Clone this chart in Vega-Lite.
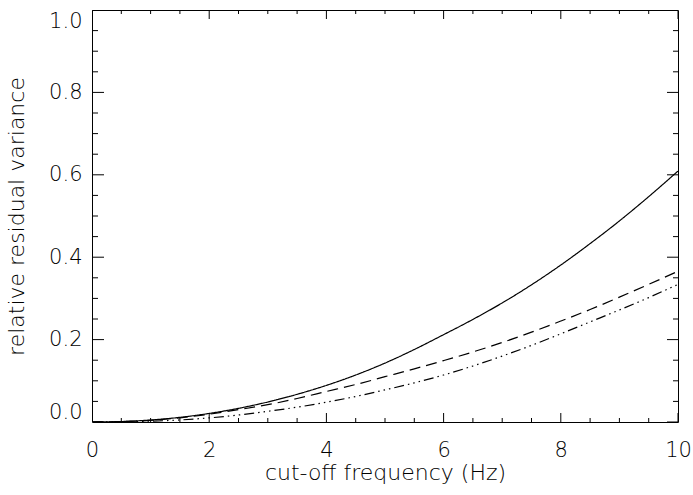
{
  "$schema": "https://vega.github.io/schema/vega-lite/v6.json",
  "width": 586,
  "height": 412,
  "autosize": {"type": "none"},
  "padding": {"left": 92, "top": 10, "right": 15, "bottom": 73},
  "background": "white",
  "config": {
    "view": {"stroke": "black", "strokeWidth": 1},
    "axis": {"grid": false, "ticks": false, "domain": false, "labelFont": "DejaVu Sans", "titleFont": "DejaVu Sans", "labelFontSize": 21, "titleFontSize": 22, "labelFontWeight": 200, "titleFontWeight": 200, "labelColor": "black", "titleColor": "black"}
  },
  "datasets": {
    "curves": [
      {"f": 0, "v": 0, "s": "a"}, {"f": 0.5, "v": 0.0011, "s": "a"}, {"f": 1, "v": 0.0048, "s": "a"}, {"f": 1.5, "v": 0.0113, "s": "a"}, {"f": 2, "v": 0.0208, "s": "a"}, {"f": 2.5, "v": 0.0331, "s": "a"}, {"f": 3, "v": 0.0486, "s": "a"}, {"f": 3.5, "v": 0.0672, "s": "a"}, {"f": 4, "v": 0.0889, "s": "a"}, {"f": 4.5, "v": 0.114, "s": "a"}, {"f": 5, "v": 0.143, "s": "a"}, {"f": 5.5, "v": 0.176, "s": "a"}, {"f": 6, "v": 0.212, "s": "a"}, {"f": 6.5, "v": 0.249, "s": "a"}, {"f": 7, "v": 0.289, "s": "a"}, {"f": 7.5, "v": 0.333, "s": "a"}, {"f": 8, "v": 0.381, "s": "a"}, {"f": 8.5, "v": 0.433, "s": "a"}, {"f": 9, "v": 0.488, "s": "a"}, {"f": 9.5, "v": 0.547, "s": "a"}, {"f": 10, "v": 0.609, "s": "a"},
      {"f": 0, "v": 0, "s": "b"}, {"f": 0.5, "v": 0.001, "s": "b"}, {"f": 1, "v": 0.004, "s": "b"}, {"f": 1.5, "v": 0.01, "s": "b"}, {"f": 2, "v": 0.019, "s": "b"}, {"f": 2.5, "v": 0.03, "s": "b"}, {"f": 3, "v": 0.042, "s": "b"}, {"f": 3.5, "v": 0.057, "s": "b"}, {"f": 4, "v": 0.074, "s": "b"}, {"f": 4.5, "v": 0.091, "s": "b"}, {"f": 5, "v": 0.11, "s": "b"}, {"f": 5.5, "v": 0.129, "s": "b"}, {"f": 6, "v": 0.149, "s": "b"}, {"f": 6.5, "v": 0.17, "s": "b"}, {"f": 7, "v": 0.193, "s": "b"}, {"f": 7.5, "v": 0.218, "s": "b"}, {"f": 8, "v": 0.245, "s": "b"}, {"f": 8.5, "v": 0.273, "s": "b"}, {"f": 9, "v": 0.303, "s": "b"}, {"f": 9.5, "v": 0.334, "s": "b"}, {"f": 10, "v": 0.366, "s": "b"},
      {"f": 0, "v": 0, "s": "c"}, {"f": 0.5, "v": 0.0005, "s": "c"}, {"f": 1, "v": 0.002, "s": "c"}, {"f": 1.5, "v": 0.005, "s": "c"}, {"f": 2, "v": 0.01, "s": "c"}, {"f": 2.5, "v": 0.017, "s": "c"}, {"f": 3, "v": 0.026, "s": "c"}, {"f": 3.5, "v": 0.036, "s": "c"}, {"f": 4, "v": 0.048, "s": "c"}, {"f": 4.5, "v": 0.062, "s": "c"}, {"f": 5, "v": 0.078, "s": "c"}, {"f": 5.5, "v": 0.095, "s": "c"}, {"f": 6, "v": 0.114, "s": "c"}, {"f": 6.5, "v": 0.136, "s": "c"}, {"f": 7, "v": 0.16, "s": "c"}, {"f": 7.5, "v": 0.186, "s": "c"}, {"f": 8, "v": 0.214, "s": "c"}, {"f": 8.5, "v": 0.243, "s": "c"}, {"f": 9, "v": 0.272, "s": "c"}, {"f": 9.5, "v": 0.302, "s": "c"}, {"f": 10, "v": 0.334, "s": "c"}
    ],
    "xticks": [
      {"t": 0, "major": true}, {"t": 0.5, "major": false}, {"t": 1, "major": false}, {"t": 1.5, "major": false}, {"t": 2, "major": true}, {"t": 2.5, "major": false}, {"t": 3, "major": false}, {"t": 3.5, "major": false}, {"t": 4, "major": true}, {"t": 4.5, "major": false}, {"t": 5, "major": false}, {"t": 5.5, "major": false}, {"t": 6, "major": true}, {"t": 6.5, "major": false}, {"t": 7, "major": false}, {"t": 7.5, "major": false}, {"t": 8, "major": true}, {"t": 8.5, "major": false}, {"t": 9, "major": false}, {"t": 9.5, "major": false}, {"t": 10, "major": true}
    ],
    "yticks": [
      {"t": 0, "major": true}, {"t": 0.05, "major": false}, {"t": 0.1, "major": false}, {"t": 0.15, "major": false}, {"t": 0.2, "major": true}, {"t": 0.25, "major": false}, {"t": 0.3, "major": false}, {"t": 0.35, "major": false}, {"t": 0.4, "major": true}, {"t": 0.45, "major": false}, {"t": 0.5, "major": false}, {"t": 0.55, "major": false}, {"t": 0.6, "major": true}, {"t": 0.65, "major": false}, {"t": 0.7, "major": false}, {"t": 0.75, "major": false}, {"t": 0.8, "major": true}, {"t": 0.85, "major": false}, {"t": 0.9, "major": false}, {"t": 0.95, "major": false}, {"t": 1.0, "major": true}
    ]
  },
  "resolve": {"axis": {"x": "independent", "y": "independent"}},
  "layer": [
    {
      "data": {"name": "curves"},
      "mark": {"type": "line", "color": "black", "strokeWidth": 1.2, "interpolate": "monotone", "clip": true},
      "encoding": {
        "x": {"field": "f", "type": "quantitative", "scale": {"domain": [0, 10], "nice": false},
              "axis": {"orient": "bottom", "values": [0, 2, 4, 6, 8, 10], "format": "d", "labelFlush": false, "labelPadding": 17, "title": "cut-off frequency (Hz)", "titleY": 57, "titleBaseline": "alphabetic"}},
        "y": {"field": "v", "type": "quantitative", "scale": {"domain": [0, 1], "nice": false},
              "axis": {"orient": "left", "values": [0, 0.2, 0.4, 0.6, 0.8, 1.0], "format": ".1f", "labelFlush": true, "labelPadding": 10, "title": "relative residual variance", "titleX": -69, "titleBaseline": "alphabetic"}},
        "detail": {"field": "s"},
        "strokeDash": {"field": "s", "type": "nominal", "legend": null, "scale": {"domain": ["a", "b", "c"], "range": [[1, 0], [11, 6], [10, 4, 1.5, 4, 1.5, 4, 1.5, 4]]}}
      }
    },
    {
      "data": {"name": "xticks"},
      "mark": {"type": "tick", "orient": "vertical", "color": "black", "thickness": 1, "opacity": 1, "clip": true},
      "encoding": {
        "x": {"field": "t", "type": "quantitative", "axis": null},
        "y": {"datum": 0, "type": "quantitative", "axis": null},
        "size": {"condition": {"test": "datum.major", "value": 18}, "value": 8}
      }
    },
    {
      "data": {"name": "xticks"},
      "mark": {"type": "tick", "orient": "vertical", "color": "black", "thickness": 1, "opacity": 1, "clip": true},
      "encoding": {
        "x": {"field": "t", "type": "quantitative", "axis": null},
        "y": {"datum": 1, "type": "quantitative", "axis": null},
        "size": {"condition": {"test": "datum.major", "value": 18}, "value": 8}
      }
    },
    {
      "data": {"name": "yticks"},
      "mark": {"type": "tick", "orient": "horizontal", "color": "black", "thickness": 1, "opacity": 1, "clip": true},
      "encoding": {
        "y": {"field": "t", "type": "quantitative", "axis": null},
        "x": {"datum": 0, "type": "quantitative", "axis": null},
        "size": {"condition": {"test": "datum.major", "value": 24}, "value": 12}
      }
    },
    {
      "data": {"name": "yticks"},
      "mark": {"type": "tick", "orient": "horizontal", "color": "black", "thickness": 1, "opacity": 1, "clip": true},
      "encoding": {
        "y": {"field": "t", "type": "quantitative", "axis": null},
        "x": {"datum": 10, "type": "quantitative", "axis": null},
        "size": {"condition": {"test": "datum.major", "value": 22}, "value": 10}
      }
    }
  ]
}
